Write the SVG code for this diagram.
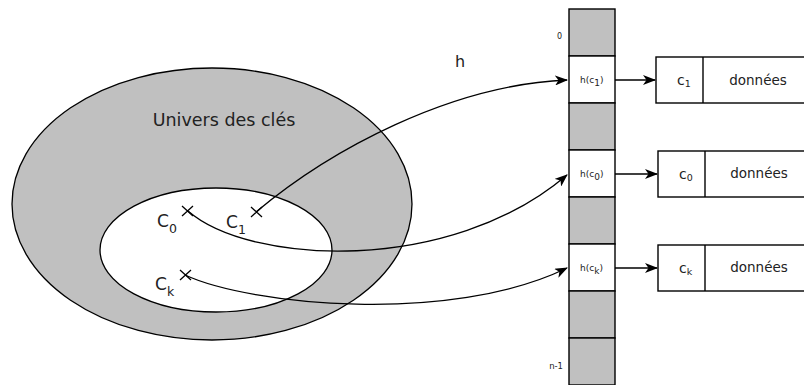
<svg xmlns="http://www.w3.org/2000/svg" width="804" height="385" viewBox="0 0 804 385">
<defs>
<marker id="arr" viewBox="0 0 13 10" refX="12" refY="5" markerWidth="13" markerHeight="10" markerUnits="userSpaceOnUse" orient="auto">
<path d="M0,0 L13,5 L0,10 L3.5,5 Z" fill="#000"/>
</marker>
<style>
.t{font-family:"DejaVu Sans",sans-serif;fill:#222}
.ln{fill:none;stroke:#000;stroke-width:1.3}
.cell{stroke:#000;stroke-width:1.4}
.g{fill:#c0c0c0}
.w{fill:#fff}
</style>
</defs>
<g id="univers">
<ellipse cx="212" cy="204" rx="200" ry="136" fill="#c0c0c0" stroke="#000" stroke-width="1.3"/>
<text class="t" x="224" y="126" font-size="17.5" text-anchor="middle">Univers des clés</text>
</g>
<g id="cles">
<ellipse cx="216" cy="250" rx="116" ry="62" fill="#fff" stroke="#000" stroke-width="1.3"/>
</g>
<g id="c0">
<path class="ln" d="M182,206 L193,216 M193,206 L182,216"/>
<text class="t" x="157" y="227" font-size="17">C<tspan font-size="12.5" dy="6">0</tspan></text>
</g>
<g id="c1">
<path class="ln" d="M251,207 L262,217 M262,207 L251,217"/>
<text class="t" x="226" y="228" font-size="17">C<tspan font-size="12.5" dy="6">1</tspan></text>
</g>
<g id="ck">
<path class="ln" d="M180,270 L191,280 M191,270 L180,280"/>
<text class="t" x="155" y="290" font-size="17">C<tspan font-size="12.5" dy="6">k</tspan></text>
</g>
<g id="hlabel">
<text class="t" x="460" y="67" font-size="16" text-anchor="middle">h</text>
</g>
<g id="table">
<rect class="cell g" x="569" y="9" width="46" height="47"/>
<rect class="cell w" x="569" y="56" width="46" height="47"/>
<rect class="cell g" x="569" y="103" width="46" height="47"/>
<rect class="cell w" x="569" y="150" width="46" height="47"/>
<rect class="cell g" x="569" y="197" width="46" height="47"/>
<rect class="cell w" x="569" y="244" width="46" height="47"/>
<rect class="cell g" x="569" y="291" width="46" height="47"/>
<rect class="cell g" x="569" y="338" width="46" height="47"/>
<text class="t" x="562" y="39" font-size="8" text-anchor="end">0</text>
<text class="t" x="563" y="369" font-size="8.5" text-anchor="end">n-1</text>
<text class="t" x="580" y="83" font-size="9">h(c<tspan dy="3">1</tspan><tspan dy="-3">)</tspan></text>
<text class="t" x="580" y="177" font-size="9">h(c<tspan dy="3">0</tspan><tspan dy="-3">)</tspan></text>
<text class="t" x="580" y="271" font-size="9">h(c<tspan dy="3">k</tspan><tspan dy="-3">)</tspan></text>
</g>
<g id="entree1">
<rect class="cell w" x="656" y="57" width="160" height="46"/>
<line class="cell" x1="703" y1="57" x2="703" y2="103"/>
<text class="t" x="677" y="85" font-size="14">c<tspan font-size="9.5" dy="2">1</tspan></text>
<text class="t" x="758" y="85" font-size="13.5" text-anchor="middle">données</text>
</g>
<g id="entree0">
<rect class="cell w" x="658" y="151" width="160" height="46"/>
<line class="cell" x1="705" y1="151" x2="705" y2="197"/>
<text class="t" x="679" y="179" font-size="14">c<tspan font-size="9.5" dy="2">0</tspan></text>
<text class="t" x="759" y="178" font-size="13.5" text-anchor="middle">données</text>
</g>
<g id="entreek">
<rect class="cell w" x="658" y="245" width="160" height="46"/>
<line class="cell" x1="705" y1="245" x2="705" y2="291"/>
<text class="t" x="679" y="273" font-size="14">c<tspan font-size="9.5" dy="2">k</tspan></text>
<text class="t" x="759" y="272" font-size="13.5" text-anchor="middle">données</text>
</g>
<g id="connectors">
<path class="ln" d="M256,212 C330,150 450,85 567,80" marker-end="url(#arr)"/>
<path class="ln" d="M188,211 C250,265 450,275 567,175" marker-end="url(#arr)"/>
<path class="ln" d="M185,275 C250,305 450,325 567,268" marker-end="url(#arr)"/>
<line class="ln" x1="615" y1="80" x2="655" y2="80" marker-end="url(#arr)"/>
<line class="ln" x1="615" y1="174" x2="657" y2="174" marker-end="url(#arr)"/>
<line class="ln" x1="615" y1="268" x2="657" y2="268" marker-end="url(#arr)"/>
</g>
</svg>
